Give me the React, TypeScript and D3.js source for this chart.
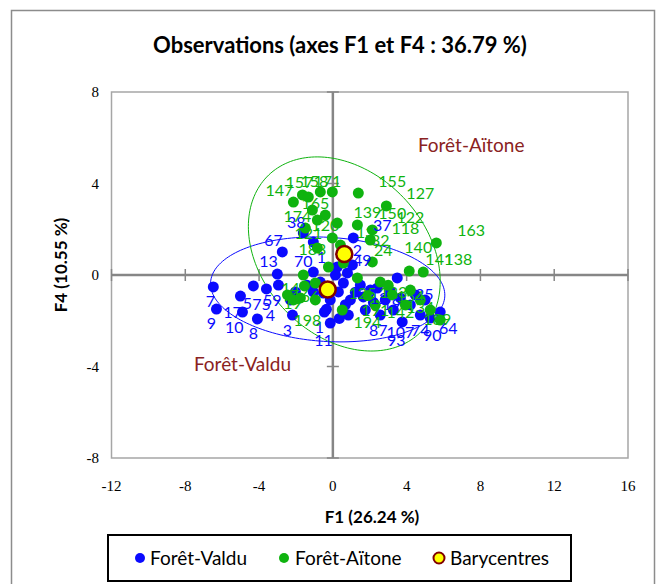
import React from 'react';
import * as d3 from 'd3';

// observations (F1, F4)
const valduPoints: [number, number][] = [
  [-6.48, -0.52], [-6.31, -1.49], [-5.01, -0.92], [-4.9, -1.62], [-4.31, -0.48],
  [-4.09, -1.92], [-3.6, -0.61], [-3.01, 0.04], [-2.95, -0.44], [-2.74, 1.01],
  [-1.6, 1.84], [-1.06, 1.44], [-1.06, 0.13], [1.11, 1.62], [0.24, 0.35],
  [0.79, 0.09], [0.14, 0.0], [0.57, -0.35], [0.3, -0.74], [-0.14, -1.09],
  [0.95, -1.09], [-0.51, -0.79], [-1.06, -0.74], [0.84, -1.75], [-0.14, -2.1],
  [1.49, -0.44], [1.65, -0.96], [2.03, -0.66], [3.49, -0.13], [2.41, -0.57],
  [3.28, -1.53], [2.57, -1.75], [1.76, -1.53], [3.76, -2.05], [-2.3, -1.09],
  [-2.03, -0.74], [-0.68, -0.31], [-2.19, -1.75], [-0.46, -1.62], [2.84, -1.09],
  [4.2, -1.31], [4.74, -1.75], [5.28, -1.88], [5.82, -1.62], [4.47, -0.87],
  [3.66, -1.0], [5.0, -1.09], [1.06, 0.44], [0.68, -1.3], [1.22, -0.75],
  [-0.35, -1.5], [0.35, -1.9], [2.2, -1.2], [3.1, -0.7], [-1.4, -0.45],
];

const aitonePoints: [number, number][] = [
  [-2.14, 3.19], [-1.65, 3.5], [-1.33, 3.41], [-0.68, 3.63], [-0.03, 3.63],
  [1.38, 3.58], [-1.11, 2.84], [-0.41, 2.62], [-0.84, 2.4], [0.24, 2.27],
  [-1.49, 2.05], [-0.03, 1.62], [0.41, 1.31], [1.33, 2.19], [2.14, 1.97],
  [2.03, 1.53], [-0.84, 1.18], [2.9, 3.02], [5.61, 1.4], [4.14, 0.17],
  [4.9, 0.13], [-1.6, 0.0], [-0.24, 0.35], [1.33, -0.13], [-0.95, -0.35],
  [0.57, 0.52], [0.51, -1.53], [-2.46, -0.87], [-2.14, -1.09], [-1.54, -0.48],
  [2.57, -0.31], [3.22, -0.87], [3.93, -1.31], [4.74, -1.09], [5.28, -1.53],
  [2.3, -1.31], [4.2, -0.66], [5.82, -1.97], [-0.95, -1.09], [-1.76, -1.0],
  [2.14, 0.57], [3.0, -0.45], [1.9, -0.9],
];

const valduLabels: [string, number, number][] = [
  ['67', -3.22, 1.53], ['13', -3.49, 0.61], ['70', -1.6, 0.61], ['38', -1.98, 2.32],
  ['1', -0.62, 0.79], ['37', 2.68, 2.19], ['49', 1.6, 0.66], ['2', 1.33, 1.09],
  ['7', -6.64, -1.14], ['9', -6.58, -2.1], ['17', -5.44, -1.62], ['10', -5.34, -2.27],
  ['8', -4.31, -2.54], ['5', -4.63, -1.22], ['75', -3.87, -1.27], ['59', -3.28, -1.09],
  ['4', -3.39, -1.75], ['3', -2.46, -2.4], ['1', -0.73, -2.27], ['11', -0.51, -2.84],
  ['93', 3.44, -2.84], ['90', 5.39, -2.62], ['64', 6.26, -2.32], ['87', 2.46, -2.4],
  ['107', 3.66, -2.49], ['74', 4.74, -2.4], ['25', 4.96, -0.83], ['19', 3.2, -1.25],
  ['12', 2.5, -1.0],
];

const aitoneLabels: [string, number, number][] = [
  ['155', 3.22, 4.11], ['127', 4.74, 3.58], ['139', 1.87, 2.75], ['150', 3.22, 2.71],
  ['122', 4.2, 2.54], ['118', 3.93, 2.05], ['13', 1.76, 1.88], ['32', 2.57, 1.53],
  ['24', 2.73, 1.09], ['163', 7.5, 1.97], ['140', 4.63, 1.22], ['141', 5.77, 0.7],
  ['138', 6.8, 0.7], ['147', -2.9, 3.72], ['157', -1.81, 4.07], ['158', -1.0, 4.11],
  ['171', -0.3, 4.11], ['165', -0.95, 3.15], ['174', -1.92, 2.58], ['120', -0.41, 2.19],
  ['121', -1.33, 1.84], ['183', -1.11, 1.14], ['14', -2.3, -0.57], ['166', -1.49, -0.92],
  ['19', -2.19, -1.22], ['198', -1.38, -1.97], ['125', 1.6, -0.79], ['123', 3.28, -0.74],
  ['154', 4.2, -0.92], ['134', 4.74, -1.4], ['189', 5.66, -1.92], ['194', 1.87, -2.05],
  ['191', 2.3, -1.53], ['142', 3.66, -1.62],
];

const barycentres: [string, number, number][] = [
  ['Forêt-Valdu', -0.28, -0.63],
  ['Forêt-Aïtone', 0.62, 0.92],
];

// confidence ellipses: centre, then x = A cos t + B sin t, y = C cos t + D sin t
const ellipseValdu = [-0.28, -0.63, 6.35, 0, -0.25, 2.28];
const ellipseAitone = [0.62, 0.92, 5.2, 0, -1.2, 4.07];

const groupNames: [string, number, number][] = [
  ['Forêt-Aïtone', 7.5, 5.7],
  ['Forêt-Valdu', -4.9, -3.9],
];

const xTicks = [-12, -8, -4, 0, 4, 8, 12, 16];
const yTicks = [-8, -4, 0, 4, 8];

const BLUE = '#0a0aff';
const GREEN = '#0fb30f';
const DARKRED = '#8a2222';
const SANS = 'Lato, "Open Sans", sans-serif';
const SERIF = '"Liberation Serif", "DejaVu Serif", serif';

export default function App() {
  const x = d3.scaleLinear().domain([-12, 16]).range([111.5, 628]);
  const y = d3.scaleLinear().domain([-8, 8]).range([458, 92]);

  const ellipsePath = (e: number[]) => {
    const [cx, cy, A, B, C, D] = e;
    const ts = d3.range(0, 2 * Math.PI + 0.001, Math.PI / 90);
    const line = d3.line<number>()
      .x(t => x(cx + A * Math.cos(t) + B * Math.sin(t)))
      .y(t => y(cy + C * Math.cos(t) + D * Math.sin(t)));
    return line(ts) || '';
  };

  return (
    <svg width={663} height={584} style={{ position: 'absolute', left: 0, top: 0, background: '#fff' }}>
      <rect x={11.5} y={10.5} width={643} height={590} fill="#fff" stroke="#8c8c8c" strokeWidth={1.5} />

      <text x={340} y={53} textAnchor="middle" fontFamily={SANS} fontWeight="bold" fontSize={22}>
        Observations (axes F1 et F4 : 36.79 %)
      </text>

      <rect x={x(-12)} y={y(8)} width={x(16) - x(-12)} height={y(-8) - y(8)} fill="none" stroke="#a6a6a6" strokeWidth={1.5} />

      {/* zero axes */}
      <line x1={x(-12)} x2={x(16)} y1={y(0)} y2={y(0)} stroke="#868686" strokeWidth={2.5} />
      <line x1={x(0)} x2={x(0)} y1={y(8)} y2={y(-8)} stroke="#868686" strokeWidth={2.5} />
      {xTicks.map(t => (
        <line key={'xt' + t} x1={x(t)} x2={x(t)} y1={y(0) - 6} y2={y(0) + 6} stroke="#868686" strokeWidth={1.5} />
      ))}
      {yTicks.map(t => (
        <line key={'yt' + t} x1={x(0) - 6} x2={x(0) + 6} y1={y(t)} y2={y(t)} stroke="#868686" strokeWidth={1.5} />
      ))}

      {xTicks.map(t => (
        <text key={'xl' + t} x={x(t)} y={491} textAnchor="middle" fontFamily={SERIF} fontSize={15}>{t}</text>
      ))}
      {yTicks.map(t => (
        <text key={'yl' + t} x={99} y={y(t) + 5} textAnchor="end" fontFamily={SERIF} fontSize={15}>{t}</text>
      ))}

      <text x={372} y={523} textAnchor="middle" fontFamily={SANS} fontWeight="bold" fontSize={17}>F1 (26.24 %)</text>
      <text transform={`translate(67,${265}) rotate(-90)`} textAnchor="middle" fontFamily={SANS} fontWeight="bold" fontSize={17}>F4 (10.55 %)</text>

      <path d={ellipsePath(ellipseValdu)} fill="none" stroke={BLUE} strokeWidth={1} />
      <path d={ellipsePath(ellipseAitone)} fill="none" stroke={GREEN} strokeWidth={1} />

      {valduPoints.map((p, i) => (
        <circle key={'v' + i} cx={x(p[0])} cy={y(p[1])} r={5.5} fill={BLUE} />
      ))}
      {aitonePoints.map((p, i) => (
        <circle key={'a' + i} cx={x(p[0])} cy={y(p[1])} r={5.5} fill={GREEN} />
      ))}
      {barycentres.map(b => (
        <circle key={b[0]} cx={x(b[1])} cy={y(b[2])} r={8} fill="#ffff00" stroke="#800000" strokeWidth={2.5} />
      ))}

      {valduLabels.map((l, i) => (
        <text key={'vl' + i} x={x(l[1])} y={y(l[2]) + 6} textAnchor="middle" fontFamily={SANS} fontSize={16} fill={BLUE}>{l[0]}</text>
      ))}
      {aitoneLabels.map((l, i) => (
        <text key={'al' + i} x={x(l[1])} y={y(l[2]) + 6} textAnchor="middle" fontFamily={SANS} fontSize={16} fill={GREEN}>{l[0]}</text>
      ))}

      {groupNames.map(g => (
        <text key={g[0]} x={x(g[1])} y={y(g[2]) + 7} textAnchor="middle" fontFamily={SANS} fontSize={19} fill={DARKRED}>{g[0]}</text>
      ))}

      {/* legend */}
      <rect x={108} y={535} width={463} height={46} fill="#fff" stroke="#000" strokeWidth={2} />
      <circle cx={140} cy={558} r={5} fill={BLUE} />
      <text x={150} y={565} fontFamily={SANS} fontSize={19}>Forêt-Valdu</text>
      <circle cx={284} cy={558} r={5} fill={GREEN} />
      <text x={295} y={565} fontFamily={SANS} fontSize={19}>Forêt-Aïtone</text>
      <circle cx={439} cy={558} r={5.5} fill="#ffff00" stroke="#800000" strokeWidth={2} />
      <text x={450} y={565} fontFamily={SANS} fontSize={19}>Barycentres</text>
    </svg>
  );
}
